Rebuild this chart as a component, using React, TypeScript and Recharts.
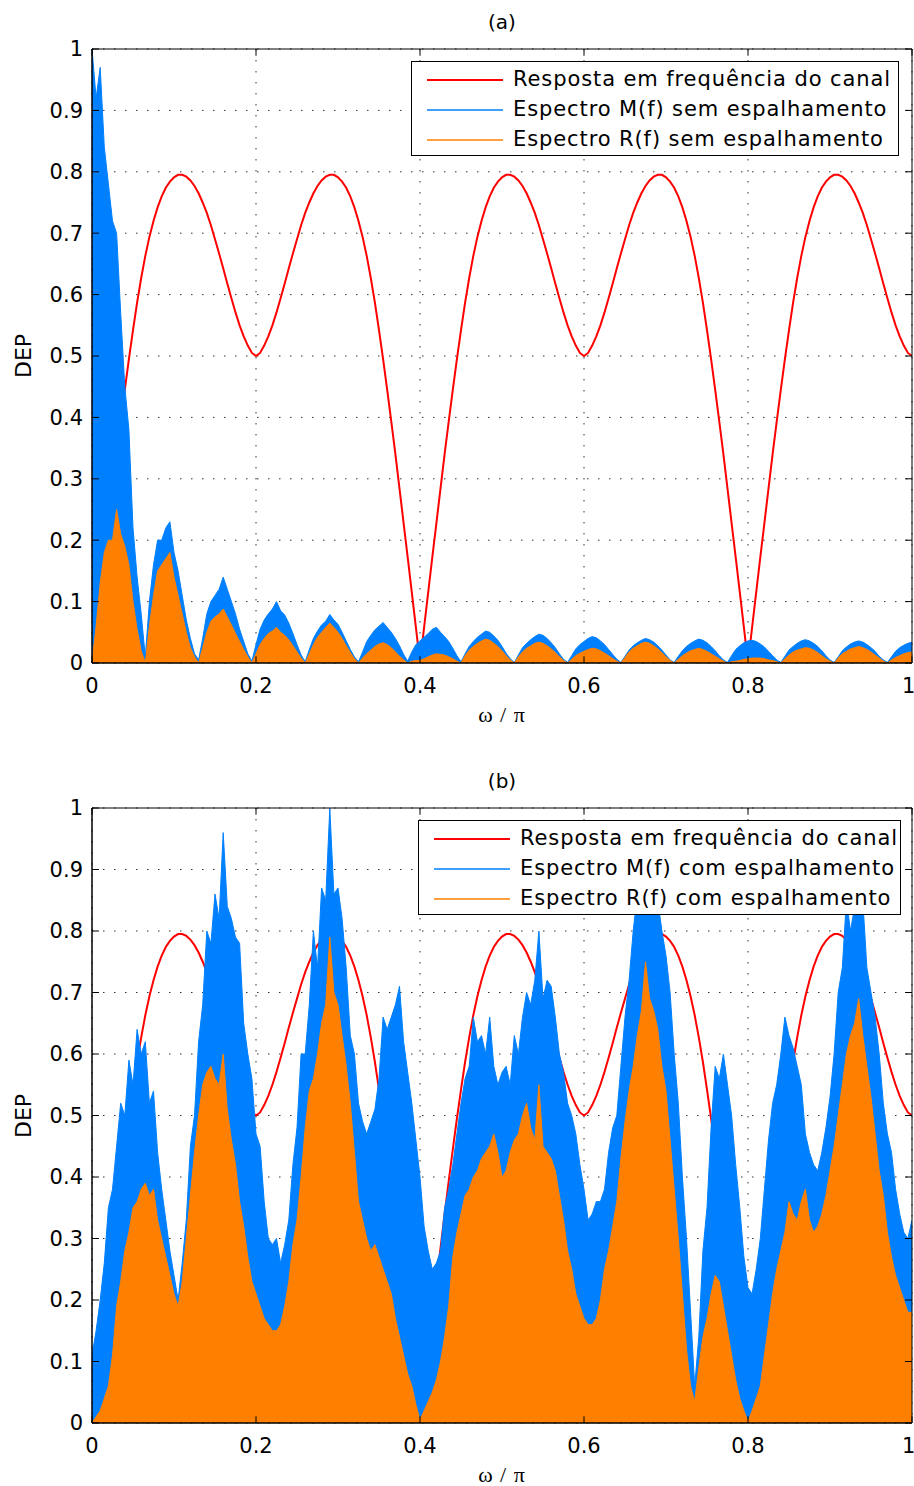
import { ComposedChart, Area, XAxis, YAxis, CartesianGrid, ReferenceLine, ReferenceArea } from 'recharts';

// Frequência normalizada (ω/π), de 0 a 1 em passos de 0,005
const N_PONTOS = 201;
const FREQ = Array.from({ length: N_PONTOS }, (_, i) => (i * 5) / 1000);

const X_TICKS = [0, 0.2, 0.4, 0.6, 0.8, 1];
const Y_TICKS = [0, 0.1, 0.2, 0.3, 0.4, 0.5, 0.6, 0.7, 0.8, 0.9, 1];

// Resposta em frequência do canal (igual nos dois gráficos)
const CANAL = [
  // 0 a 0.2
  0, 0.058, 0.115, 0.172, 0.228, 0.284, 0.34, 0.393, 0.445, 0.495, 0.542, 0.587, 0.627, 0.663, 0.694, 0.72, 0.742, 0.76, 0.774, 0.784,
  0.791, 0.795, 0.795, 0.792, 0.786, 0.777, 0.765, 0.75, 0.733, 0.713, 0.69, 0.667, 0.643, 0.618, 0.594, 0.571, 0.55, 0.532, 0.517, 0.505, 0.5,
  // 0.205 a 0.4
  0.505, 0.517, 0.532, 0.55, 0.571, 0.594, 0.618, 0.643, 0.667, 0.69, 0.713, 0.733, 0.75, 0.765, 0.777, 0.786, 0.792, 0.795, 0.795, 0.791,
  0.784, 0.774, 0.76, 0.742, 0.72, 0.694, 0.663, 0.627, 0.587, 0.542, 0.495, 0.445, 0.393, 0.34, 0.284, 0.228, 0.172, 0.115, 0.058, 0,
  // 0.405 a 0.6
  0.058, 0.115, 0.172, 0.228, 0.284, 0.34, 0.393, 0.445, 0.495, 0.542, 0.587, 0.627, 0.663, 0.694, 0.72, 0.742, 0.76, 0.774, 0.784,
  0.791, 0.795, 0.795, 0.792, 0.786, 0.777, 0.765, 0.75, 0.733, 0.713, 0.69, 0.667, 0.643, 0.618, 0.594, 0.571, 0.55, 0.532, 0.517, 0.505, 0.5,
  // 0.605 a 0.8
  0.505, 0.517, 0.532, 0.55, 0.571, 0.594, 0.618, 0.643, 0.667, 0.69, 0.713, 0.733, 0.75, 0.765, 0.777, 0.786, 0.792, 0.795, 0.795, 0.791,
  0.784, 0.774, 0.76, 0.742, 0.72, 0.694, 0.663, 0.627, 0.587, 0.542, 0.495, 0.445, 0.393, 0.34, 0.284, 0.228, 0.172, 0.115, 0.058, 0,
  // 0.805 a 1
  0.058, 0.115, 0.172, 0.228, 0.284, 0.34, 0.393, 0.445, 0.495, 0.542, 0.587, 0.627, 0.663, 0.694, 0.72, 0.742, 0.76, 0.774, 0.784,
  0.791, 0.795, 0.795, 0.792, 0.786, 0.777, 0.765, 0.75, 0.733, 0.713, 0.69, 0.667, 0.643, 0.618, 0.594, 0.571, 0.55, 0.532, 0.517, 0.505, 0.5,
];

// (a) Espectro M(f) sem espalhamento
const M_SEM = [
  1.0, 0.92, 0.97, 0.84, 0.78, 0.72, 0.7, 0.57, 0.45, 0.38, 0.22, 0.14, 0.08, 0.01,
  0.1, 0.16, 0.2, 0.2, 0.22, 0.23, 0.18, 0.15, 0.11, 0.07, 0.04, 0.015, 0.005,
  0.04, 0.08, 0.1, 0.11, 0.12, 0.14, 0.12, 0.1, 0.08, 0.055, 0.035, 0.015, 0.003,
  0.03, 0.055, 0.07, 0.08, 0.088, 0.1, 0.085, 0.078, 0.065, 0.048, 0.03, 0.013, 0.002,
  0.022, 0.04, 0.052, 0.062, 0.068, 0.079, 0.07, 0.063, 0.05, 0.036, 0.022, 0.01, 0.002,
  0.018, 0.035, 0.045, 0.054, 0.06, 0.066, 0.058, 0.05, 0.04, 0.028, 0.014, 0.003,
  0.018, 0.03, 0.036, 0.042, 0.048, 0.055, 0.058, 0.05, 0.043, 0.035, 0.024, 0.012, 0.002,
  0.015, 0.027, 0.035, 0.042, 0.047, 0.052, 0.05, 0.044, 0.037, 0.027, 0.016, 0.007, 0.001,
  0.013, 0.025, 0.032, 0.038, 0.043, 0.047, 0.045, 0.04, 0.033, 0.025, 0.015, 0.006, 0.001,
  0.012, 0.023, 0.03, 0.035, 0.04, 0.043, 0.041, 0.036, 0.03, 0.022, 0.014, 0.006, 0.001,
  0.011, 0.021, 0.028, 0.033, 0.037, 0.04, 0.038, 0.034, 0.028, 0.021, 0.013, 0.005, 0.001,
  0.011, 0.02, 0.027, 0.032, 0.036, 0.039, 0.037, 0.033, 0.027, 0.02, 0.012, 0.005, 0.001,
  0.012, 0.022, 0.028, 0.033, 0.036, 0.037, 0.035, 0.031, 0.026, 0.019, 0.012, 0.005, 0.001,
  0.011, 0.021, 0.027, 0.032, 0.036, 0.038, 0.036, 0.032, 0.027, 0.02, 0.012, 0.005, 0.001,
  0.01, 0.02, 0.026, 0.031, 0.034, 0.036, 0.034, 0.03, 0.025, 0.019, 0.011, 0.005, 0.001,
  0.01, 0.019, 0.025, 0.029, 0.032, 0.034,
];

// (a) Espectro R(f) sem espalhamento
const R_SEM = [
  0, 0.06, 0.13, 0.18, 0.2, 0.2, 0.25, 0.21, 0.19, 0.16, 0.1, 0.055, 0.02, 0,
  0.06, 0.11, 0.15, 0.16, 0.17, 0.18, 0.14, 0.11, 0.08, 0.05, 0.025, 0.01, 0,
  0.025, 0.05, 0.068, 0.075, 0.08, 0.088, 0.075, 0.062, 0.048, 0.035, 0.022, 0.01, 0,
  0.015, 0.03, 0.04, 0.048, 0.052, 0.058, 0.05, 0.045, 0.038, 0.028, 0.018, 0.008, 0,
  0.015, 0.03, 0.042, 0.05, 0.058, 0.065, 0.058, 0.05, 0.04, 0.028, 0.017, 0.007, 0,
  0.008, 0.015, 0.021, 0.027, 0.031, 0.033, 0.03, 0.025, 0.018, 0.011, 0.005, 0,
  0.003, 0.004, 0.004, 0.007, 0.01, 0.013, 0.015, 0.014, 0.013, 0.01, 0.007, 0.003, 0,
  0.012, 0.021, 0.027, 0.032, 0.036, 0.039, 0.037, 0.032, 0.027, 0.02, 0.012, 0.005, 0,
  0.01, 0.018, 0.024, 0.028, 0.032, 0.034, 0.032, 0.028, 0.023, 0.017, 0.01, 0.004, 0,
  0.006, 0.012, 0.016, 0.019, 0.022, 0.024, 0.023, 0.02, 0.016, 0.012, 0.007, 0.003, 0,
  0.009, 0.018, 0.024, 0.028, 0.032, 0.034, 0.032, 0.028, 0.023, 0.017, 0.01, 0.004, 0,
  0.006, 0.012, 0.016, 0.02, 0.022, 0.024, 0.022, 0.019, 0.015, 0.011, 0.007, 0.003, 0,
  0.002, 0.003, 0.004, 0.006, 0.007, 0.008, 0.008, 0.008, 0.007, 0.005, 0.004, 0.002, 0,
  0.007, 0.013, 0.018, 0.021, 0.023, 0.025, 0.024, 0.021, 0.017, 0.012, 0.007, 0.003, 0,
  0.008, 0.015, 0.019, 0.023, 0.025, 0.027, 0.025, 0.022, 0.018, 0.013, 0.008, 0.003, 0,
  0.005, 0.009, 0.012, 0.015, 0.017, 0.018,
];

// (b) Espectro M(f) com espalhamento
const M_COM = [
  0.11, 0.15, 0.2, 0.26, 0.35, 0.38, 0.45, 0.52, 0.5, 0.59,
  0.55, 0.64, 0.6, 0.62, 0.52, 0.54, 0.44, 0.38, 0.33, 0.28,
  0.24, 0.2, 0.26, 0.33, 0.45, 0.5, 0.62, 0.68, 0.8, 0.78,
  0.86, 0.82, 0.96, 0.84, 0.82, 0.79, 0.78, 0.65, 0.6, 0.56,
  0.47, 0.45, 0.36, 0.3, 0.29, 0.3, 0.26, 0.29, 0.33, 0.42,
  0.48, 0.6, 0.6, 0.68, 0.8, 0.74, 0.87, 0.85, 1.0, 0.86,
  0.87, 0.82, 0.74, 0.63, 0.6, 0.52, 0.49, 0.47, 0.49, 0.51,
  0.56, 0.66, 0.64, 0.66, 0.68, 0.71, 0.62, 0.57, 0.52, 0.46,
  0.4, 0.32, 0.28, 0.25, 0.26, 0.28, 0.35, 0.38, 0.42, 0.47,
  0.52, 0.56, 0.58, 0.66, 0.62, 0.63, 0.6, 0.66, 0.58, 0.55,
  0.57, 0.58, 0.55, 0.63, 0.6, 0.66, 0.7, 0.68, 0.72, 0.8,
  0.69, 0.72, 0.71, 0.66, 0.6, 0.57, 0.52, 0.5, 0.47, 0.42,
  0.38, 0.33, 0.34, 0.36, 0.36, 0.38, 0.44, 0.48, 0.5, 0.58,
  0.66, 0.72, 0.8, 0.86, 0.84, 0.9, 0.86, 0.92, 0.85, 0.8,
  0.76, 0.7, 0.6, 0.52, 0.4, 0.3, 0.18, 0.06, 0.14, 0.28,
  0.35, 0.48, 0.58, 0.56, 0.6, 0.55, 0.5, 0.42, 0.35, 0.27,
  0.22, 0.21, 0.25, 0.3, 0.38, 0.46, 0.52, 0.55, 0.6, 0.66,
  0.63, 0.61, 0.58, 0.55, 0.47, 0.44, 0.42, 0.41, 0.44, 0.48,
  0.53, 0.6, 0.7, 0.74, 0.85, 0.8, 0.84, 0.88, 0.85, 0.74,
  0.7, 0.66, 0.6, 0.52, 0.47, 0.44, 0.38, 0.34, 0.31, 0.3,
  0.33,
];

// (b) Espectro R(f) com espalhamento
const R_COM = [
  0, 0.01, 0.02, 0.04, 0.06, 0.11, 0.19, 0.23, 0.28, 0.31,
  0.35, 0.36, 0.38, 0.39, 0.37, 0.38, 0.33, 0.3, 0.27, 0.24,
  0.21, 0.19, 0.23, 0.3, 0.37, 0.44, 0.5, 0.55, 0.57, 0.58,
  0.56, 0.55, 0.6, 0.51, 0.46, 0.42, 0.36, 0.32, 0.27, 0.23,
  0.21, 0.19, 0.17, 0.16, 0.15, 0.15, 0.16, 0.19, 0.23, 0.29,
  0.33, 0.4, 0.48, 0.54, 0.56, 0.6, 0.65, 0.68, 0.79, 0.7,
  0.68, 0.63, 0.58, 0.52, 0.44, 0.36, 0.33, 0.3, 0.28, 0.29,
  0.27, 0.25, 0.23, 0.21, 0.17, 0.14, 0.11, 0.08, 0.06, 0.03,
  0.005, 0.02, 0.035, 0.05, 0.07, 0.1, 0.14, 0.19, 0.27, 0.31,
  0.34, 0.37, 0.38, 0.4, 0.41, 0.43, 0.44, 0.45, 0.47, 0.44,
  0.4, 0.41, 0.44, 0.46, 0.47, 0.5, 0.52, 0.48, 0.46, 0.55,
  0.45, 0.44, 0.43, 0.41, 0.37, 0.33, 0.28, 0.25, 0.21, 0.19,
  0.17, 0.16, 0.16, 0.17, 0.2, 0.25, 0.28, 0.32, 0.36, 0.43,
  0.49, 0.54, 0.58, 0.63, 0.67, 0.75, 0.69, 0.67, 0.64, 0.58,
  0.54, 0.46, 0.38, 0.3, 0.21, 0.12, 0.06, 0.035, 0.09, 0.14,
  0.17, 0.21, 0.24, 0.23, 0.19, 0.15, 0.11, 0.07, 0.04, 0.02,
  0.003, 0.02, 0.04, 0.06, 0.11, 0.16, 0.21, 0.25, 0.28, 0.31,
  0.36, 0.34, 0.33, 0.36, 0.38, 0.33, 0.31, 0.32, 0.34, 0.37,
  0.41, 0.45, 0.5, 0.55, 0.6, 0.63, 0.65, 0.69, 0.63, 0.58,
  0.53, 0.47, 0.41, 0.37, 0.31, 0.27, 0.24, 0.22, 0.2, 0.18,
  0.18,
];

const VERMELHO = '#ff0000';
const AZUL = '#0080ff';
const LARANJA = '#ff8000';
const FONTE = '"DejaVu Sans", "Liberation Sans", Arial, sans-serif';

const dadosA = FREQ.map((x, i) => ({ x, canal: CANAL[i], m: M_SEM[i], r: R_SEM[i] }));
const dadosB = FREQ.map((x, i) => ({ x, canal: CANAL[i], m: M_COM[i], r: R_COM[i] }));

interface ItemLegenda {
  texto: string;
  cor: string;
  espessura: number;
  opacidade: number;
}

function Legenda({ left, top, width, itens }: { left: number; top: number; width: number; itens: ItemLegenda[] }) {
  return (
    <div style={{
      position: 'absolute',
      left,
      top,
      width,
      height: 95,
      boxSizing: 'border-box',
      border: '1px solid #000',
      background: '#fff',
    }}>
      {itens.map((item, i) => (
        <div key={item.texto} style={{ position: 'absolute', left: 0, top: 17 + i * 30, width: '100%', height: 2 }}>
          <div style={{
            position: 'absolute',
            left: 15,
            top: 0,
            width: 76,
            height: item.espessura,
            backgroundColor: item.cor,
            opacity: item.opacidade,
          }} />
          <div style={{
            position: 'absolute',
            left: 101,
            top: -13,
            fontFamily: FONTE,
            fontSize: 21,
            letterSpacing: 0.9,
            lineHeight: '26px',
            whiteSpace: 'nowrap',
            color: '#000',
          }}>
            {item.texto}
          </div>
        </div>
      ))}
    </div>
  );
}

interface PainelProps {
  top: number;
  altura: number;
  titulo: string;
  dados: { x: number; canal: number; m: number; r: number }[];
  legLeft: number;
  legWidth: number;
  sufixo: string;
}

function Painel({ top, altura, titulo, dados, legLeft, legWidth, sufixo }: PainelProps) {
  const plotTop = 49;
  const plotBottom = altura - 77;
  const tick = { fontFamily: FONTE, fontSize: 21, fill: '#000' };

  return (
    <div style={{ position: 'absolute', left: 0, top, width: 914, height: altura }}>
      <div style={{
        position: 'absolute', left: 92, top: 10, width: 820, textAlign: 'center',
        fontFamily: FONTE, fontSize: 20, lineHeight: '24px', color: '#000',
      }}>
        {titulo}
      </div>
      <ComposedChart
        width={914}
        height={altura}
        data={dados}
        margin={{ top: plotTop, right: 2, bottom: 47, left: 32 }}
      >
        <CartesianGrid stroke="#333" strokeDasharray="1.5 9.5" />
        <XAxis
          dataKey="x"
          type="number"
          domain={[0, 1]}
          ticks={X_TICKS}
          tickFormatter={(v: number) => String(v)}
          tickSize={0}
          tickMargin={15}
          height={30}
          tick={tick}
          axisLine={{ stroke: '#000' }}
          allowDataOverflow
        />
        <YAxis
          type="number"
          domain={[0, 1]}
          ticks={Y_TICKS}
          tickFormatter={(v: number) => String(v)}
          tickSize={0}
          tickMargin={9}
          width={60}
          tick={tick}
          axisLine={{ stroke: '#000' }}
          allowDataOverflow
        />
        {/* curva do canal desenhada primeiro: os espectros ficam por cima dela */}
        <Area type="linear" dataKey="canal" stroke={VERMELHO} strokeWidth={2} fill="none" fillOpacity={0} dot={false} activeDot={false} isAnimationActive={false} />
        <Area type="linear" dataKey="m" stroke={AZUL} strokeWidth={1} fill={AZUL} fillOpacity={1} dot={false} activeDot={false} isAnimationActive={false} />
        <Area type="linear" dataKey="r" stroke={LARANJA} strokeWidth={1} fill={LARANJA} fillOpacity={1} dot={false} activeDot={false} isAnimationActive={false} />
        {X_TICKS.map((t) => (
          <ReferenceLine key={'xb' + t} segment={[{ x: t, y: 0 }, { x: t, y: 0.011 }]} stroke="#000" />
        ))}
        {X_TICKS.map((t) => (
          <ReferenceLine key={'xt' + t} segment={[{ x: t, y: 1 }, { x: t, y: 0.989 }]} stroke="#000" />
        ))}
        {Y_TICKS.map((t) => (
          <ReferenceLine key={'yl' + t} segment={[{ x: 0, y: t }, { x: 0.0085, y: t }]} stroke="#000" />
        ))}
        {Y_TICKS.map((t) => (
          <ReferenceLine key={'yr' + t} segment={[{ x: 1, y: t }, { x: 0.9915, y: t }]} stroke="#000" />
        ))}
        <ReferenceArea x1={0} x2={1} y1={0} y2={1} fill="none" fillOpacity={0} stroke="#000" strokeWidth={1} />
      </ComposedChart>
      <div style={{
        position: 'absolute', left: 92, top: plotBottom + 40, width: 820, textAlign: 'center',
        fontFamily: '"Liberation Serif", "DejaVu Serif", serif', fontSize: 22, letterSpacing: 1, lineHeight: '24px', color: '#000',
      }}>
        ω / π
      </div>
      <div style={{
        position: 'absolute', left: -26, top: (plotTop + plotBottom) / 2 - 12, width: 100, height: 24,
        textAlign: 'center', transform: 'rotate(-90deg)', transformOrigin: '50% 50%',
        fontFamily: FONTE, fontSize: 22, lineHeight: '24px', color: '#000',
      }}>
        DEP
      </div>
      <Legenda
        left={legLeft}
        top={plotTop + 12}
        width={legWidth}
        itens={[
          { texto: 'Resposta em frequência do canal', cor: VERMELHO, espessura: 2, opacidade: 1 },
          { texto: `Espectro M(f) ${sufixo}`, cor: AZUL, espessura: 2, opacidade: 0.75 },
          { texto: `Espectro R(f) ${sufixo}`, cor: LARANJA, espessura: 2, opacidade: 0.75 },
        ]}
      />
    </div>
  );
}

export default function App() {
  return (
    <div style={{ position: 'absolute', left: 0, top: 0, width: 914, height: 1486, background: '#fff' }}>
      <Painel top={0} altura={740} titulo="(a)" dados={dadosA} legLeft={411} legWidth={488} sufixo="sem espalhamento" />
      <Painel top={759} altura={741} titulo="(b)" dados={dadosB} legLeft={418} legWidth={483} sufixo="com espalhamento" />
    </div>
  );
}
